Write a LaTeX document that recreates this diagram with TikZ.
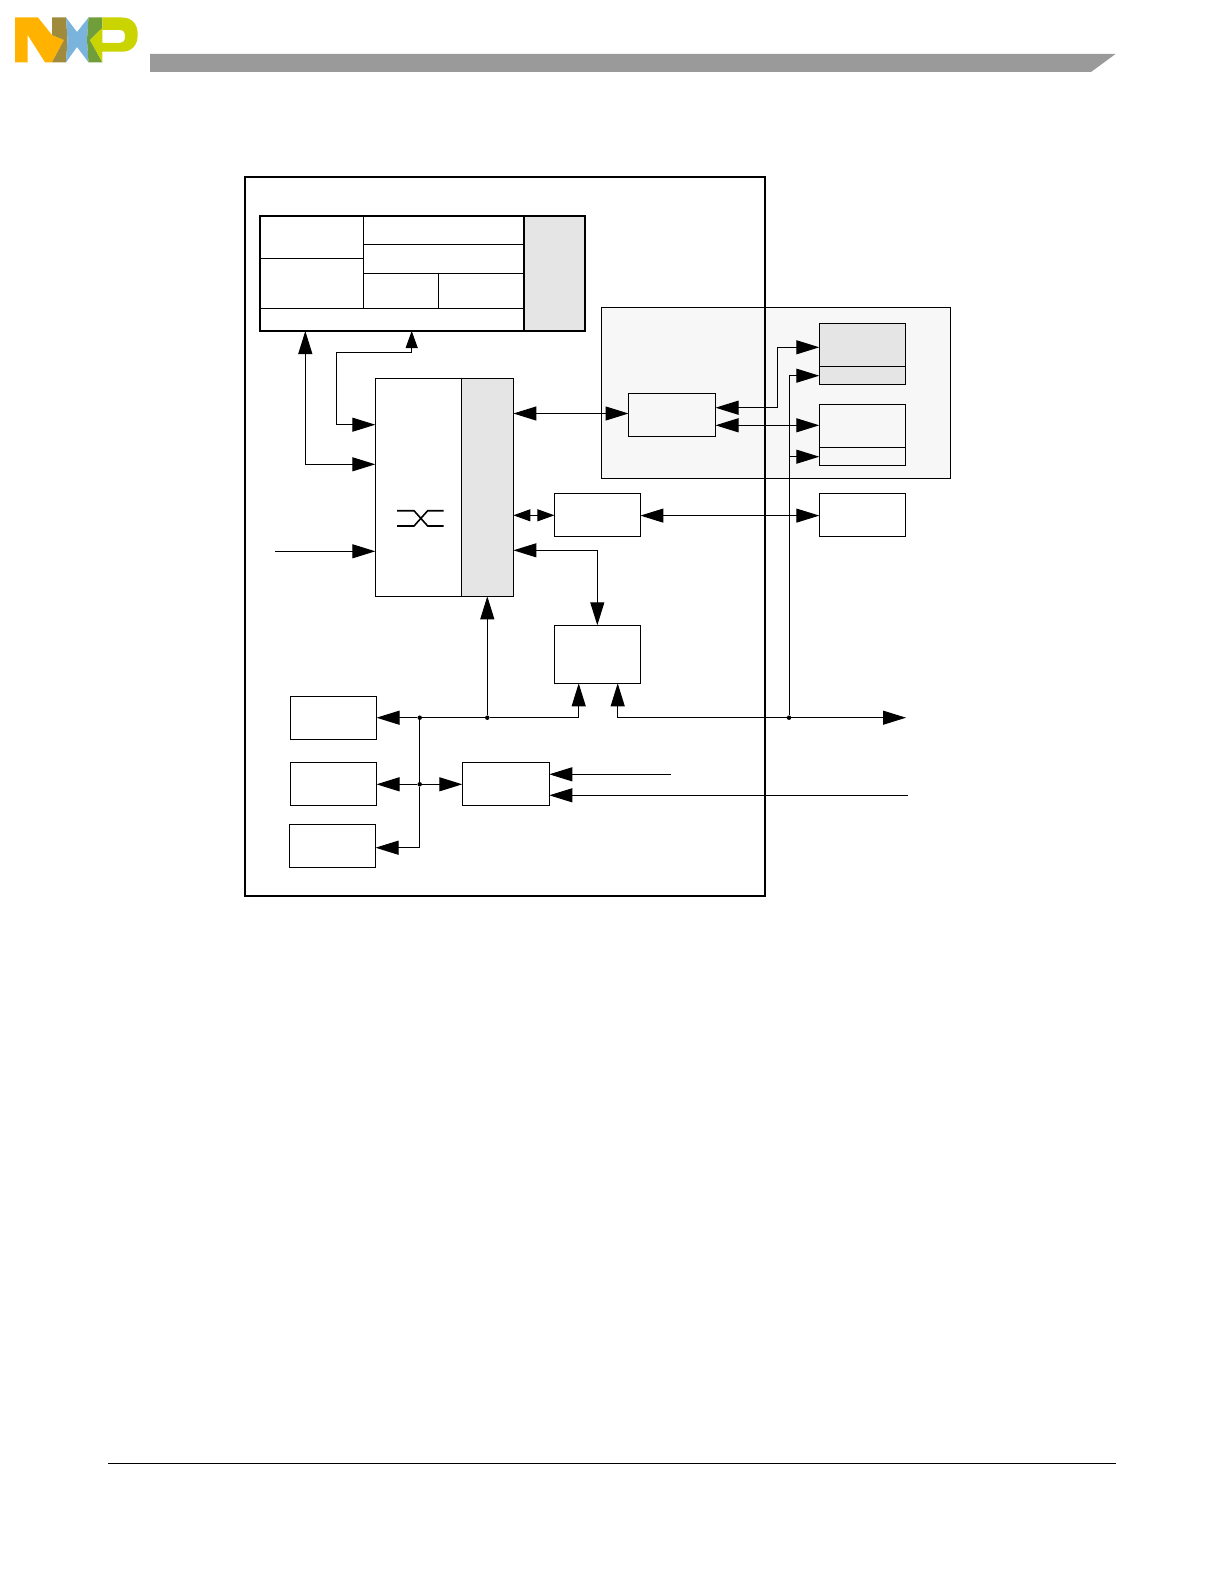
\documentclass[tikz,border=0pt]{standalone}
\usetikzlibrary{arrows.meta,positioning}

\definecolor{barGray}{HTML}{9A9A9A}
\definecolor{blockGray}{HTML}{E5E5E5}
\definecolor{panelGray}{HTML}{F7F7F7}
\definecolor{nxpYellow}{HTML}{FFB300}
\definecolor{nxpOlive}{HTML}{A08B3C}
\definecolor{nxpBlue}{HTML}{7AB3DC}
\definecolor{nxpGreen}{HTML}{6F9E3A}
\definecolor{nxpLime}{HTML}{C9D400}

\tikzset{
    bigtip/.tip={Triangle[length=23pt,width=14pt]},
    smalltip/.tip={Triangle[length=17pt,width=12pt]},
    cell/.style={draw, line width=1pt, inner sep=0pt, outer sep=0pt},
    block/.style={cell, minimum width=86pt, minimum height=43pt},
    heavycell/.style={cell, line width=2pt},
    dot/.style={circle, fill=black, inner sep=0pt, minimum size=4.5pt},
    wire/.style={line width=1pt}
}

\begin{document}
\begin{tikzpicture}[x=1pt, y=-1pt, >=bigtip]
    \useasboundingbox (0,0) rectangle (1224,1584);

    % Logo
    \fill[nxpYellow] (15,17.5) -- (38,17.5) -- (52,35) -- (64,40) -- (52,62.3) -- (45,62.3) -- (27.7,35) -- (27.7,62.3) -- (15,62.3) -- cycle;
    \fill[nxpOlive] (52,17.5) -- (66,17.5) -- (67.5,40) -- (66,62.3) -- (52,62.3) -- (64,40) -- (52,35) -- cycle;
    \fill[nxpBlue] (66,17.5) -- (77,32) -- (88.5,17.5) -- (87,40) -- (88.5,62.3) -- (77,47) -- (66,62.3) -- (67.5,40) -- cycle;
    \fill[nxpGreen] (88.5,17.5) -- (102.3,17.5) -- (102.3,28) -- (90,40) -- (102.3,62.3) -- (88.5,62.3) -- (87,40) -- cycle;
    \fill[nxpLime, even odd rule] (102.3,17.5) -- (122,17.5) .. controls (132,17.5) and (137.7,24) .. (137.7,34.6)
        .. controls (137.7,45) and (132,51.7) .. (122,51.7) -- (102.3,51.7) -- (102.3,62.3) -- (90,40) -- (102.3,28) -- cycle
        (102.3,30) -- (120,30) .. controls (124,30) and (125,33) .. (125,36.5) .. controls (125,41) and (123,43) .. (120,43) -- (102.3,43) -- cycle;

    % Header bar and footer rule
    \fill[barGray] (150,54) -- (1115.5,54) -- (1091,72) -- (150,72) -- cycle;
    \draw[line width=1pt] (108,1463) -- (1116,1463);

    % Shaded panel, then the chip outline over it
    \node[cell, fill=panelGray, minimum width=348.6pt, minimum height=170.6pt] (memPanel) at (776,393) {};
    \node[heavycell, minimum width=520pt, minimum height=719pt] (chip) at (505,536.5) {};

    % Core complex
    \node[heavycell, minimum width=264.3pt, minimum height=115pt] (core) at (392.2,273.5) {};
    \node[heavycell, fill=blockGray, minimum width=60.7pt, minimum height=115pt, right=0pt of core] (coreCache) {};
    \node[cell, minimum width=103.3pt, minimum height=42.3pt, below right=0pt and 0pt of core.north west] (coreA) {};
    \node[cell, minimum width=103.3pt, minimum height=50pt, below=0pt of coreA] (coreB) {};
    \node[cell, minimum width=161pt, minimum height=28.3pt, below right=0pt and 0pt of coreA.north east] (coreC) {};
    \node[cell, minimum width=161pt, minimum height=29pt, below=0pt of coreC] (coreD) {};
    \node[cell, minimum width=75pt, minimum height=35pt, below right=0pt and 0pt of coreD.south west] (coreE) {};
    \node[cell, minimum width=86pt, minimum height=35pt, right=0pt of coreE] (coreF) {};

    % Switch fabric
    \node[cell, minimum width=86.4pt, minimum height=218pt] (fabric) at (418.5,487.3) {};
    \node[cell, fill=blockGray, minimum width=51.7pt, minimum height=218pt, right=0pt of fabric] (fabricPort) {};
    \foreach \a/\b in {510.7/526, 526/510.7} {
        \draw[line width=1.6pt] (397,\a) -- (414,\a) -- (427.7,\b) -- (443.7,\b);
    }

    % Blocks on the right
    \node[block, minimum width=87pt] (ctrl) at (672,414.8) {};
    \node[block, fill=blockGray] (memTop) at (862.3,344.8) {};
    \node[cell, fill=blockGray, minimum width=86pt, minimum height=18pt, below=0pt of memTop] (memTopEcc) {};
    \node[block] (memLow) at (862.3,425.8) {};
    \node[cell, minimum width=86pt, minimum height=18pt, below=0pt of memLow] (memLowEcc) {};
    \node[block] (phyOut) at (862.3,514.8) {};
    \node[block] (phyIn) at (597.4,514.8) {};
    \node[block, minimum height=58pt] (dma) at (597.3,654.3) {};

    % Blocks at the bottom
    \node[block] (perA) at (333.5,717.8) {};
    \node[block] (perB) at (333.5,783.8) {};
    \node[block] (perC) at (332.5,845.8) {};
    \node[block, minimum width=87pt] (clk) at (505.8,783.8) {};

    % Junctions and free ends
    \node[dot] (dotA) at (419.7,717.7) {};
    \node[dot] (dotB) at (487.3,717.7) {};
    \node[dot] (dotC) at (789,717.7) {};
    \node[dot] (dotD) at (419.7,784.3) {};
    \coordinate (busEnd) at (906,717.7);
    \coordinate (fabricIn) at (275.3,551.3);
    \coordinate (clkInA) at (670.7,774.3);
    \coordinate (clkInB) at (908,795.3);

    % Core to fabric
    \draw[wire, <->] (305.3,0 |- core.south) |- (fabric.west |- 0,464.3);
    \draw[wire, -{smalltip}] (336.7,424.7) |- (411.7,352.3) -- (411.7,0 |- core.south);
    \draw[wire, ->] (336.7,424.7) -- (fabric.west |- 0,424.7);
    \draw[wire, ->] (fabricIn) -- (fabric.west |- fabricIn);

    % Fabric to the right side
    \draw[wire, <->] (fabricPort.east |- 0,413.5) -- (ctrl.west |- 0,413.5);
    \draw[wire, {smalltip}-{smalltip}] (fabricPort.east |- 0,515.3) -- (phyIn.west |- 0,515.3);
    \draw[wire, <->] (phyIn.east |- 0,515.6) -- (phyOut.west |- 0,515.6);
    \draw[wire, <->] (fabricPort.east |- 0,550.3) -| (dma.north);

    % Controller to memories
    \draw[wire, <->] (ctrl.east |- 0,407.7) -| (777.7,347.3) -- (memTop.west |- 0,347.3);
    \draw[wire, <->] (ctrl.east |- 0,425.3) -- (memLow.west |- 0,425.3);

    % Bus along the bottom
    \draw[wire, ->] (dotA) -- (perA.east |- dotA);
    \draw[wire] (dotA) -- (dotB);
    \draw[wire, ->] (dotB) -- (fabricPort.south -| dotB);
    \draw[wire, ->] (dotB) -| (578.7,0 |- dma.south);
    \draw[wire, ->] (dotC) -| (617.7,0 |- dma.south);
    \draw[wire, ->] (dotC) -- (busEnd);
    \draw[wire] (dotC) -- (dotC |- 0,375.7);
    \draw[wire, ->] (dotC |- 0,375.7) -- (memTopEcc.west |- 0,375.7);
    \draw[wire, ->] (dotC |- 0,456.7) -- (memLowEcc.west |- 0,456.7);

    % Clock tree
    \draw[wire] (dotA) -- (dotD);
    \draw[wire, ->] (dotD) -- (perB.east |- dotD);
    \draw[wire, ->] (dotD) -- (clk.west |- dotD);
    \draw[wire, ->] (dotD) |- (perC.east |- 0,847.7);
    \draw[wire, ->] (clkInA) -- (clk.east |- clkInA);
    \draw[wire, ->] (clkInB) -- (clk.east |- clkInB);
\end{tikzpicture}
\end{document}
